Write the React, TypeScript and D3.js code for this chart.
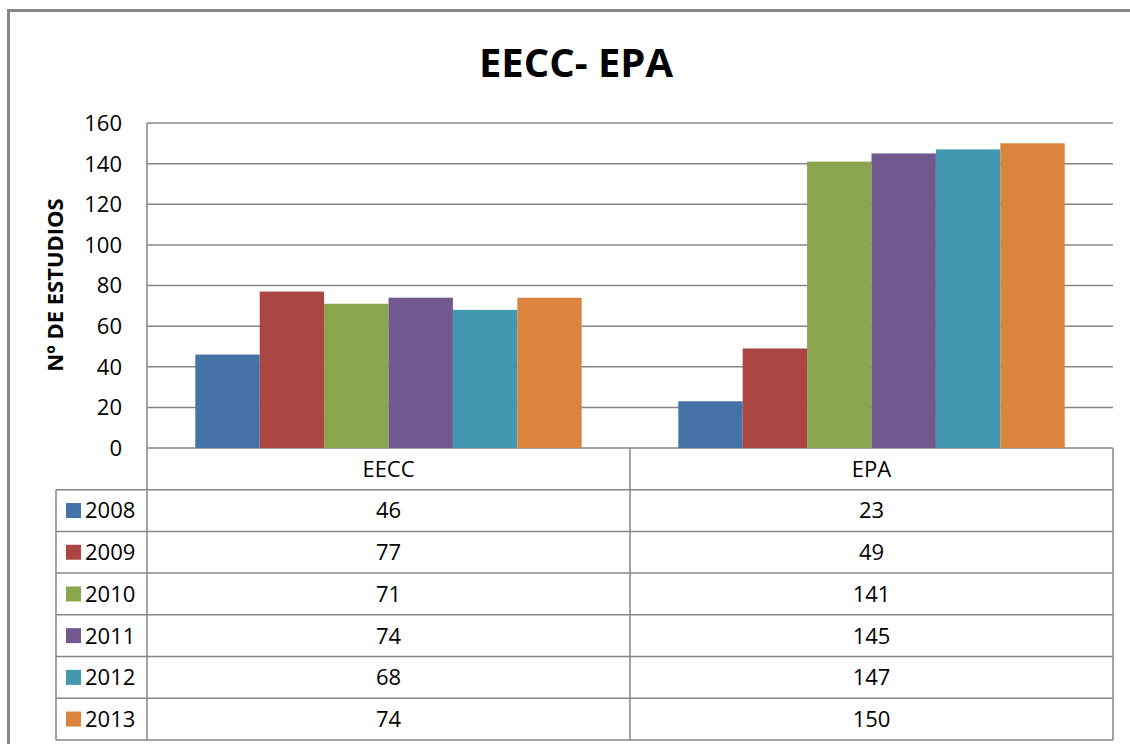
import React from 'react';
import * as d3 from 'd3';

const categories = ['EECC', 'EPA'];
const years = ['2008', '2009', '2010', '2011', '2012', '2013'];
const eecc = [46, 77, 71, 74, 68, 74];
const epa = [23, 49, 141, 145, 147, 150];
const yTicks = [0, 20, 40, 60, 80, 100, 120, 140, 160];
const colors = ['#4572A7', '#AA4643', '#89A54E', '#71588F', '#4198AF', '#DB843D'];

const W = 1130;
const H = 744;
const FONT = "'Open Sans', sans-serif";
const GRID = '#868686';
const FS = 22;

export default function App() {
  const plot = { left: 147, right: 1113, top: 123, bottom: 448 };
  const legendLeft = 56;
  const rowH = 41.7;

  const x = d3.scaleBand<string>().domain(categories).range([plot.left, plot.right]);
  const xs = d3.scaleBand<string>().domain(years).range([0, x.bandwidth()]).paddingInner(0).paddingOuter(0.75);
  const y = d3.scaleLinear().domain([0, 160]).range([plot.bottom, plot.top]);

  const series = years.map((yr, i) => ({ year: yr, color: colors[i], values: [eecc[i], epa[i]] }));

  // table rows below the axis: header row + one per year
  const rowY = (i: number) => plot.bottom + rowH * (i + 1);
  const tableBottom = rowY(years.length);

  return (
    <svg width={W} height={H} style={{ position: 'absolute', left: 0, top: 0, background: '#fff' }}>
      <rect x={8.5} y={10.5} width={1200} height={800} fill="#fff" stroke={GRID} strokeWidth={3} />

      <text x={576} y={77} textAnchor="middle" fontFamily={FONT} fontWeight="bold" fontSize={40} fill="#000">
        EECC- EPA
      </text>

      {/* gridlines */}
      {yTicks.map(t => (
        <line key={t} x1={plot.left} x2={plot.right} y1={y(t)} y2={y(t)} stroke={GRID} strokeWidth={1.5} />
      ))}
      <line x1={plot.left} x2={plot.left} y1={plot.top} y2={tableBottom} stroke={GRID} strokeWidth={1.5} />

      {/* bars */}
      {series.map(s =>
        categories.map((c, ci) => (
          <rect
            key={s.year + c}
            x={(x(c) as number) + (xs(s.year) as number)}
            y={y(s.values[ci])}
            width={xs.bandwidth()}
            height={y(0) - y(s.values[ci])}
            fill={s.color}
          />
        ))
      )}

      {/* y tick labels */}
      {yTicks.map(t => (
        <text key={t} x={122} y={y(t)} dy="0.36em" textAnchor="end" fontFamily={FONT} fontSize={FS} fill="#000">
          {t}
        </text>
      ))}

      <text
        transform={`translate(63,${285}) rotate(-90)`}
        textAnchor="middle"
        fontFamily={FONT}
        fontWeight="bold"
        fontSize={22}
        fill="#000"
      >
        Nº DE ESTUDIOS
      </text>

      {/* data table */}
      <line x1={plot.right} x2={plot.right} y1={plot.bottom} y2={tableBottom} stroke={GRID} strokeWidth={1.5} />
      <line x1={x('EPA')} x2={x('EPA')} y1={plot.bottom} y2={tableBottom} stroke={GRID} strokeWidth={1.5} />
      <line x1={legendLeft} x2={legendLeft} y1={rowY(0)} y2={tableBottom} stroke={GRID} strokeWidth={1.5} />
      {d3.range(years.length + 1).map(i => (
        <line key={i} x1={legendLeft} x2={plot.right} y1={rowY(i)} y2={rowY(i)} stroke={GRID} strokeWidth={1.5} />
      ))}
      {categories.map(c => (
        <text
          key={c}
          x={(x(c) as number) + x.bandwidth() / 2}
          y={plot.bottom + rowH / 2}
          dy="0.36em"
          textAnchor="middle"
          fontFamily={FONT}
          fontSize={FS}
          fill="#000"
        >
          {c}
        </text>
      ))}
      {series.map((s, i) => (
        <g key={s.year}>
          <rect x={66} y={rowY(i) + rowH / 2 - 7.5} width={15} height={15} fill={s.color} />
          <text x={85} y={rowY(i) + rowH / 2} dy="0.36em" fontFamily={FONT} fontSize={FS} fill="#000">
            {s.year}
          </text>
          {categories.map((c, ci) => (
            <text
              key={c}
              x={(x(c) as number) + x.bandwidth() / 2}
              y={rowY(i) + rowH / 2}
              dy="0.36em"
              textAnchor="middle"
              fontFamily={FONT}
              fontSize={FS}
              fill="#000"
            >
              {s.values[ci]}
            </text>
          ))}
        </g>
      ))}
    </svg>
  );
}
